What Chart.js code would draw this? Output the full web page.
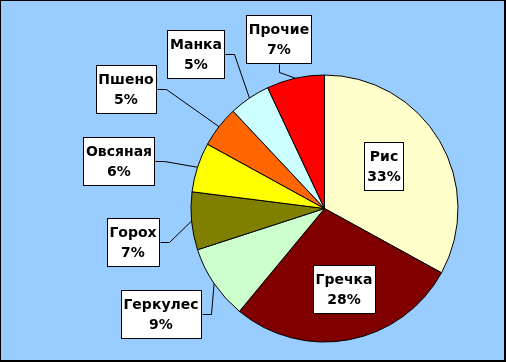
<!DOCTYPE html>
<html>
<head>
<meta charset="utf-8">
<script src="https://cdn.jsdelivr.net/npm/chart.js@4/dist/chart.umd.min.js"></script>
<style>
    html, body { margin: 0; padding: 0; background: #99ccff; }
    canvas { display: block; }
</style>
</head>
<body>
<canvas id="myChart" width="506" height="362"></canvas>
<script>
/**
 * Crop consumption pie.
 */

var categories = ['Рис', 'Гречка', 'Геркулес', 'Горох', 'Овсяная', 'Пшено', 'Манка', 'Прочие'];
var values     = [33, 28, 9, 7, 6, 5, 5, 7];
var colors     = ['#ffffcc', '#800000', '#ccffcc', '#808000', '#ffff00', '#ff6600', '#ccffff', '#ff0000'];

// label box centre, relative to the pie centre; leader: null = inside slice
var labelPos = [
    [59, -43], [19, 80], [-163.5, 105.5], [-192, 33.5],
    [-205.5, -48], [-198.5, -119.5], [-129, -154.5], [-45.5, -170]
];
var leaderFrom = [null, null, 'right', 'right', 'right', 'right', 'right', 'bottom'];

var FONT = 'bold 14px "DejaVu Sans", Verdana, sans-serif';

var frame = {
    id: 'frame',
    beforeDraw: function(chart) {
        var c = chart.ctx;
        c.save();
        c.fillStyle = '#99ccff';
        c.fillRect(0, 0, chart.width, chart.height);
        c.fillStyle = '#000';
        c.fillRect(0, 0, chart.width, 1);
        c.fillRect(0, 0, 1, chart.height);
        c.fillRect(chart.width - 2, 0, 2, chart.height);
        c.fillRect(0, chart.height - 2, chart.width, 2);
        c.restore();
    }
};

var boxLabels = {
    id: 'boxLabels',
    afterDatasetsDraw: function(chart) {
        var c = chart.ctx;
        var meta = chart.getDatasetMeta(0);
        var total = values.reduce(function(a, b) { return a + b; }, 0);

        c.save();
        c.font = FONT;
        c.textAlign = 'center';
        c.textBaseline = 'middle';

        meta.data.forEach(function(arc, i) {
            var cx = Math.round(arc.x + labelPos[i][0]);
            var cy = Math.round(arc.y + labelPos[i][1]);
            var pct = Math.round(values[i] / total * 100) + '%';
            var w = Math.round(Math.max(c.measureText(categories[i]).width, c.measureText(pct).width) + 6);
            var h = 49;
            var x0 = Math.round(cx - w / 2), y0 = Math.round(cy - h / 2);

            // leader line
            if (leaderFrom[i]) {
                var mid = (arc.startAngle + arc.endAngle) / 2;
                var ex = arc.x + Math.cos(mid) * arc.outerRadius;
                var ey = arc.y + Math.sin(mid) * arc.outerRadius;
                var sx, sy, kx, ky;
                if (leaderFrom[i] === 'right') {
                    sx = x0 + w; sy = cy;
                    kx = sx + 9; ky = sy;
                } else {
                    sx = cx; sy = y0 + h;
                    kx = sx; ky = sy + 8;
                }
                c.strokeStyle = '#000';
                c.lineWidth = 1;
                c.beginPath();
                c.moveTo(sx + 0.5, sy + 0.5);
                c.lineTo(kx + 0.5, ky + 0.5);
                c.lineTo(ex, ey);
                c.stroke();
            }

            c.fillStyle = '#fff';
            c.fillRect(x0, y0, w, h);
            c.strokeStyle = '#000';
            c.lineWidth = 1;
            c.strokeRect(x0 + 0.5, y0 + 0.5, w - 1, h - 1);

            c.fillStyle = '#000';
            c.fillText(categories[i], cx, cy - 9);
            c.fillText(pct, cx, cy + 11);
        });
        c.restore();
    }
};

var ctx = document.getElementById('myChart').getContext('2d');

var chart = new Chart(ctx, {
    type: 'pie',

    data: {
        labels: categories,
        datasets: [{
            data: values,
            backgroundColor: colors,
            borderColor: '#000',
            borderWidth: 1
        }]
    },

    options: {
        responsive: false,
        animation: false,
        layout: {
            padding: { top: 74.5, bottom: 19.5, left: 190.5, right: 47.5 }
        },
        plugins: {
            legend: { display: false },
            tooltip: { enabled: false }
        }
    },

    plugins: [frame, boxLabels]
});
</script>
</body>
</html>
